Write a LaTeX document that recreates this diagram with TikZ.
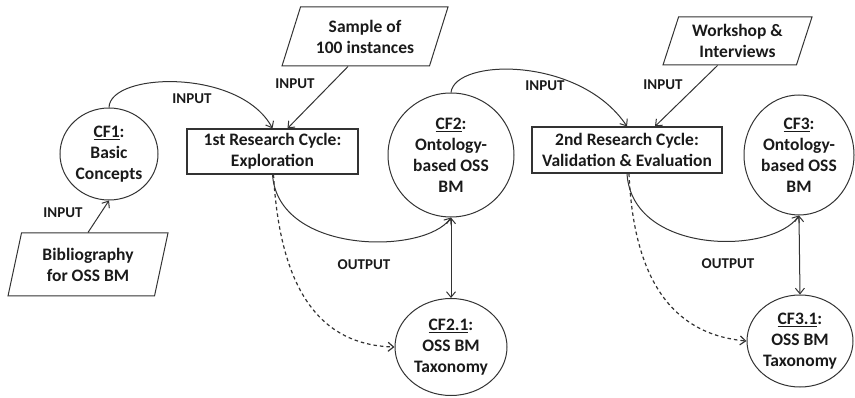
\documentclass[tikz,border=0pt]{standalone}
\usepackage{fontspec}
\setmainfont{Carlito}
\usetikzlibrary{arrows.meta,shapes.geometric}
\definecolor{ink}{HTML}{333333}
\definecolor{txt}{HTML}{1A1A1A}
\begin{document}
\begin{tikzpicture}[x=1pt,y=-1pt,
  font=\fontsize{17.5}{21}\selectfont\bfseries,
  every node/.style={inner sep=0pt, align=center, text=txt},
  ln/.style={draw=ink, line width=1pt},
  cf/.style={ellipse, ln},
  stepbox/.style={rectangle, ln, line width=1.2pt},
  data/.style={trapezium, trapezium stretches body, ln},
  arr/.style={draw=ink, line width=1pt, -{Straight Barb[length=5.5pt,width=9pt]}},
  dbl/.style={draw=ink, line width=1pt, {Straight Barb[length=5.5pt,width=9pt]}-{Straight Barb[length=5.5pt,width=9pt]}},
  dsh/.style={arr, line width=1.2pt, dash pattern=on 3.5pt off 3pt},
  lbl/.style={font=\fontsize{15}{17}\selectfont\bfseries}]
\useasboundingbox (0,0) rectangle (855,398);

% concept frames and research cycles
\node[cf, minimum width=98pt, minimum height=92pt] (cf1) at (109,154)
  {\underline{CF1}:\\Basic\\Concepts};
\node[stepbox, minimum width=171pt, minimum height=45pt] (rc1) at (272.5,151.5)
  {1st Research Cycle:\\Exploration};
\node[cf, minimum width=126pt, minimum height=124pt] (cf2) at (451,155)
  {\underline{CF2}:\\Ontology-\\based OSS\\BM};
\node[stepbox, minimum width=190pt, minimum height=46pt] (rc2) at (627,150)
  {2nd Research Cycle:\\Validation \& Evaluation};
\node[cf, minimum width=110pt, minimum height=120pt] (cf3) at (799,155)
  {\underline{CF3}:\\Ontology-\\based OSS\\BM};
\node[cf, minimum width=112pt, minimum height=97pt] (cf21) at (451,347)
  {\underline{CF2.1}:\\OSS BM\\Taxonomy};
\node[cf, minimum width=106pt, minimum height=92pt] (cf31) at (800,341)
  {\underline{CF3.1}:\\OSS BM\\Taxonomy};

% data sources
\node[data, trapezium left angle=61, trapezium right angle=119,
      minimum width=166pt, minimum height=59pt] (smp) at (365,36.5)
  {Sample of\\100 instances};
\node[data, trapezium left angle=65, trapezium right angle=115,
      minimum width=149pt, minimum height=48pt] (wsh) at (737.5,41)
  {Workshop \&\\Interviews};
\node[data, trapezium left angle=68, trapezium right angle=112,
      minimum width=160pt, minimum height=63pt] (bib) at (88,264.5)
  {Bibliography\\for OSS BM};

% inputs
\draw[arr] (cf1.north) .. controls (110,72) and (240,68) .. (rc1.north);
\draw[arr] ([xshift=-17pt]smp.south) -- ([xshift=15pt]rc1.north);
\draw[arr] (bib.north) -- (cf1.south);
\draw[arr] (cf2.north) .. controls (455,58) and (580,56) .. (rc2.north);
\draw[arr] ([xshift=-20pt]wsh.south) -- ([xshift=28pt]rc2.north);

% outputs
\draw[arr] (rc1.south) .. controls (278,255) and (425,255) .. (cf2.south);
\draw[arr] (rc2.south) .. controls (632,255) and (772,255) .. (cf3.south);
\draw[dbl] (cf2.south) -- (cf21.north);
\draw[dbl] (cf3.south) -- (cf31.north);
\draw[dsh] ([xshift=1pt]rc1.south) .. controls (280,290) and (320,345) .. (cf21.west);
\draw[dsh] ([xshift=2pt]rc2.south) .. controls (634,290) and (680,335) .. (cf31.west);

% labels
\node[lbl] (in1) at (192,99) {INPUT};
\node[lbl] (in2) at (295,84) {INPUT};
\node[lbl] (in3) at (63,213) {INPUT};
\node[lbl] (in4) at (545,86) {INPUT};
\node[lbl] (in5) at (663,85) {INPUT};
\node[lbl] (out1) at (364,265) {OUTPUT};
\node[lbl] (out2) at (728,264) {OUTPUT};
\end{tikzpicture}
\end{document}
